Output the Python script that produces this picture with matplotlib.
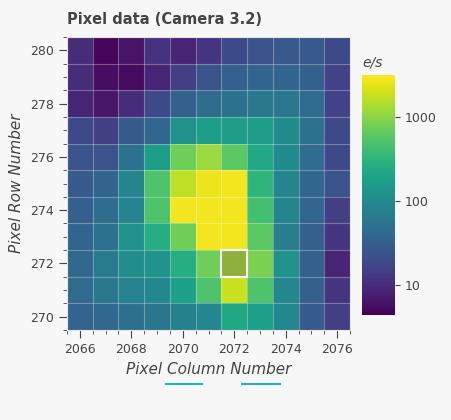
import numpy as np
import matplotlib
matplotlib.use("Agg")
import matplotlib.pyplot as plt
from matplotlib.colors import LogNorm
from matplotlib.patches import Rectangle

columns = np.arange(2066, 2077)
rows = np.arange(270, 281)

# flux in e/s, rows listed from 280 (top) down to 270
flux_top_down = [
    [9.9, 5.0, 6.2, 11.4, 8.5, 12, 19, 23.5, 26.6, 26.6, 19],
    [9.9, 5.5, 5.3, 8.5, 15, 23.5, 32, 36.5, 36.5, 32, 16],
    [8.5, 6.6, 9.9, 19, 32, 44, 53, 61, 61, 44, 16],
    [19, 15, 28, 39, 118, 165, 165, 165, 103, 53, 19],
    [23.5, 23.5, 53, 165, 740, 1180, 610, 228, 103, 44, 19],
    [28, 36.5, 85, 500, 1640, 2600, 2800, 315, 85, 39, 23.5],
    [32, 44, 85, 500, 2800, 2800, 2800, 440, 85, 39, 15],
    [36.5, 53, 118, 260, 740, 2800, 2800, 610, 70, 32, 12],
    [40, 65, 110, 130, 260, 740, 1180, 850, 118, 32, 8.5],
    [42, 60, 80, 95, 180, 500, 1870, 500, 90, 32, 12],
    [36, 40, 48, 58, 75, 90, 220, 180, 90, 28, 15],
]
flux = np.array(flux_top_down)[::-1]
selected = (2072, 272)

fig = plt.figure(figsize=(4.52, 4.20), dpi=100, facecolor="#f7f7f7")
ax = fig.add_axes([67/452, 90/420, 283/452, 293/420])
cax = fig.add_axes([362/452, 105/420, 33/452, 240/420])

mesh = ax.pcolormesh(np.arange(2065.5, 2077), np.arange(269.5, 281), flux,
                     cmap="viridis", norm=LogNorm(vmin=4.4, vmax=3160))
for x in np.arange(2065.5, 2077):
    ax.axvline(x, color="white", alpha=0.3, lw=0.8)
for y in np.arange(269.5, 281):
    ax.axhline(y, color="white", alpha=0.3, lw=0.8)
ax.add_patch(Rectangle((selected[0]-0.5, selected[1]-0.5), 1, 1,
                       facecolor="#808040", alpha=0.45, edgecolor="none"))
ax.add_patch(Rectangle((selected[0]-0.5, selected[1]-0.5), 1, 1,
                       facecolor="none", edgecolor="white", lw=1.5))
ax.set_xlim(2065.5, 2076.5)
ax.set_ylim(269.5, 280.5)
ax.set_xticks(np.arange(2066, 2077, 2))
ax.set_xticks(np.arange(2065.5, 2076.6, 0.5), minor=True)
ax.set_yticks(np.arange(270, 281, 2))
ax.set_yticks(np.arange(269.5, 280.6, 0.5), minor=True)
ax.tick_params(labelsize=9, color="#444", labelcolor="#444", direction="out", length=6)
ax.tick_params(which="minor", length=3, color="#444")
for s in ax.spines.values():
    s.set_color("#e5e5e5")
ax.set_xlabel("Pixel Column Number", style="italic", fontsize=11, color="#444")
ax.set_ylabel("Pixel Row Number", style="italic", fontsize=11, color="#444")
fig.text(67/452, 1-20/420, "Pixel data (Camera 3.2)", fontsize=10.5,
         fontweight="bold", color="#444", va="center")

cb = fig.colorbar(mesh, cax=cax)
cb.outline.set_visible(False)
cb.set_ticks([10, 100, 1000])
cb.set_ticklabels(["10", "100", "1000"])
cax.tick_params(labelsize=9, color="#444", labelcolor="#444")
cax.tick_params(which="minor", length=0)
fig.text(362/452, 1-62/420, "e/s", style="italic", fontsize=10, color="#444", va="center")

# toolbar hint (active tool underlines)
fig.add_artist(plt.Line2D([166/452, 202/452], [1-384/420]*2, color="#26aae1", lw=1.5))
fig.add_artist(plt.Line2D([242/452, 280/452], [1-384/420]*2, color="#26aae1", lw=1.5))

fig.savefig("out.png", dpi=100, facecolor=fig.get_facecolor())
